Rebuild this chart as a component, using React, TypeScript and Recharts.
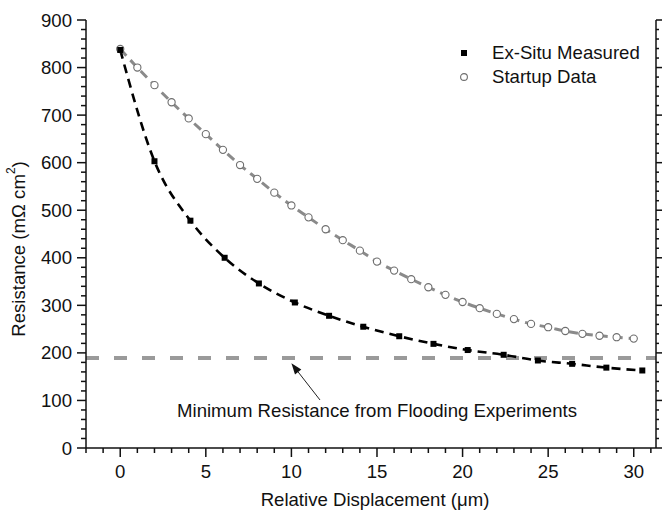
import {
  ComposedChart,
  Line,
  XAxis,
  YAxis,
  ReferenceLine,
  ReferenceDot,
  Legend,
} from "recharts";

// Ex-situ measured resistance vs. relative displacement
const exSituDisp = [0, 2.0, 4.1, 6.1, 8.1, 10.2, 12.2, 14.2, 16.3, 18.3, 20.3, 22.4, 24.4, 26.4, 28.4, 30.5];
const exSituRes = [837, 603, 478, 400, 346, 306, 278, 255, 235, 219, 206, 196, 184, 177, 169, 163];

// Startup data, one point per micron
const startupDisp = [
  0, 1, 2, 3, 4, 5, 6, 7, 8, 9, 10, 11, 12, 13, 14, 15, 16, 17, 18, 19, 20, 21, 22, 23, 24, 25, 26, 27, 28, 29, 30,
];
const startupRes = [
  839, 800, 763, 727, 693, 660, 627, 595, 566, 537, 510, 485, 460, 437, 415, 392, 373, 355, 338, 322, 307, 294, 282,
  271, 261, 254, 246, 240, 236, 233, 230,
];

const minFloodingRes = 189;
const seriesNames = ["Ex-Situ Measured", "Startup Data"];
const xMajorTicks = [0, 5, 10, 15, 20, 25, 30];
const yMajorTicks = [0, 100, 200, 300, 400, 500, 600, 700, 800, 900];

const X_DOMAIN: [number, number] = [-2, 31.3];
const Y_DOMAIN: [number, number] = [0, 900];
const xTicks = Array.from({ length: 34 }, (_, i) => i - 2);
const yTicks = Array.from({ length: 46 }, (_, i) => i * 20);

const exSitu = exSituDisp.map((x, i) => ({ x, r: exSituRes[i] }));
const startup = startupDisp.map((x, i) => ({ x, r: startupRes[i] }));

const FONT = "'Liberation Sans', Arial, Helvetica, sans-serif";
const FS = 18.6;
const INK = "#111";

const isMajor = (v: number, list: number[]) => list.includes(v);

const BottomTick = ({ x, y, payload }: any) => {
  const major = isMajor(payload.value, xMajorTicks);
  return (
    <g>
      <line x1={x} x2={x} y1={y} y2={y + (major ? 9 : 5)} stroke={INK} strokeWidth={1.5} />
      {major && (
        <text x={x} y={y + 30} textAnchor="middle" fontSize={FS} fontFamily={FONT} fill={INK}>
          {payload.value}
        </text>
      )}
    </g>
  );
};

const TopTick = ({ x, y, payload }: any) => {
  const major = isMajor(payload.value, xMajorTicks);
  return <line x1={x} x2={x} y1={y} y2={y + (major ? 9 : 5)} stroke={INK} strokeWidth={1.5} />;
};

const LeftTick = ({ x, y, payload }: any) => {
  const major = isMajor(payload.value, yMajorTicks);
  return (
    <g>
      <line x1={x} x2={x - (major ? 9 : 5)} y1={y} y2={y} stroke={INK} strokeWidth={1.5} />
      {major && (
        <text x={x - 14} y={y + 6.5} textAnchor="end" fontSize={FS} fontFamily={FONT} fill={INK}>
          {payload.value}
        </text>
      )}
    </g>
  );
};

const RightTick = ({ x, y, payload }: any) => {
  const major = isMajor(payload.value, yMajorTicks);
  return <line x1={x} x2={x + (major ? 6 : 3)} y1={y} y2={y} stroke={INK} strokeWidth={1.5} />;
};

const XTitle = ({ viewBox }: any) => (
  <text
    x={viewBox.x + viewBox.width / 2 + 4}
    y={viewBox.y + 58}
    textAnchor="middle"
    fontSize={FS}
    fontFamily={FONT}
    fill={INK}
  >
    Relative Displacement (μm)
  </text>
);

const YTitle = ({ viewBox }: any) => {
  const cx = 18;
  const cy = viewBox.y + viewBox.height / 2 + 15;
  return (
    <text
      x={cx}
      y={cy}
      transform={`rotate(-90 ${cx} ${cy})`}
      textAnchor="middle"
      dominantBaseline="central"
      fontSize={FS}
      fontFamily={FONT}
      fill={INK}
    >
      Resistance (mΩ cm
      <tspan dy={-7} fontSize={12}>
        2
      </tspan>
      <tspan dy={7}>)</tspan>
    </text>
  );
};

const Square = ({ cx, cy, index }: any) => (
  <rect key={`sq-${index}`} x={cx - 3} y={cy - 3} width={6} height={6} fill="#000" />
);

const Ring = ({ cx, cy, index }: any) => (
  <circle key={`ci-${index}`} cx={cx} cy={cy} r={3.6} fill="#fff" stroke="#6e6e6e" strokeWidth={1.1} />
);

const Arrow = ({ x1, y1, x2, y2 }: any) => {
  const ang = Math.atan2(y2 - y1, x2 - x1);
  const len = 11;
  const half = 4;
  const bx = x2 - len * Math.cos(ang);
  const by = y2 - len * Math.sin(ang);
  const px = -Math.sin(ang) * half;
  const py = Math.cos(ang) * half;
  return (
    <g>
      <line x1={x1} y1={y1} x2={bx} y2={by} stroke="#222" strokeWidth={1} />
      <polygon points={`${x2},${y2} ${bx + px},${by + py} ${bx - px},${by - py}`} fill="#111" />
    </g>
  );
};

const NoteText = ({ cx, cy }: any) => (
  <text x={cx} y={cy + 6.5} textAnchor="middle" fontSize={FS} fontFamily={FONT} fill={INK}>
    Minimum Resistance from Flooding Experiments
  </text>
);

const LegendBox = ({ payload }: any) => (
  <div style={{ fontFamily: FONT, fontSize: FS, color: INK, lineHeight: "24px" }}>
    {(payload || []).map((p: any, i: number) => (
      <div key={p.value} style={{ display: "flex", alignItems: "center", height: 24 }}>
        <svg width={18} height={12} style={{ marginRight: 19 }}>
          {i === 0 ? (
            <rect x={6} y={3} width={6} height={6} fill="#000" />
          ) : (
            <circle cx={9} cy={6} r={3.4} fill="#fff" stroke="#6e6e6e" strokeWidth={1.1} />
          )}
        </svg>
        <span>{p.value}</span>
      </div>
    ))}
  </div>
);

export default function App() {
  return (
    <div style={{ position: "absolute", left: 0, top: 0, background: "#fff" }}>
      <ComposedChart width={662} height={510} margin={{ top: 20, right: 0, bottom: 0, left: 0 }}>
        <XAxis
          xAxisId="bottom"
          dataKey="x"
          type="number"
          domain={X_DOMAIN}
          allowDataOverflow
          ticks={xTicks}
          interval={0}
          height={62}
          tickSize={0}
          tickMargin={0}
          tickLine={false}
          tick={<BottomTick />}
          axisLine={{ stroke: INK, strokeWidth: 1.5 }}
          label={<XTitle />}
        />
        <XAxis
          xAxisId="top"
          orientation="top"
          type="number"
          domain={X_DOMAIN}
          allowDataOverflow
          ticks={xTicks}
          interval={0}
          height={0}
          tickSize={0}
          tickMargin={0}
          tickLine={false}
          tick={<TopTick />}
          axisLine={{ stroke: INK, strokeWidth: 1.5 }}
        />
        <YAxis
          yAxisId="left"
          type="number"
          domain={Y_DOMAIN}
          allowDataOverflow
          ticks={yTicks}
          interval={0}
          width={86}
          tickSize={0}
          tickMargin={0}
          tickLine={false}
          tick={<LeftTick />}
          axisLine={{ stroke: INK, strokeWidth: 1.5 }}
          label={<YTitle />}
        />
        <YAxis
          yAxisId="right"
          orientation="right"
          type="number"
          domain={Y_DOMAIN}
          allowDataOverflow
          ticks={yTicks}
          interval={0}
          width={6}
          tickSize={0}
          tickMargin={0}
          tickLine={false}
          tick={<RightTick />}
          axisLine={{ stroke: INK, strokeWidth: 1.5 }}
        />

        <ReferenceLine
          xAxisId="bottom"
          yAxisId="left"
          y={minFloodingRes}
          stroke="#9a9a9a"
          strokeWidth={4}
          strokeDasharray="13 15"
        />
        <ReferenceLine
          xAxisId="bottom"
          yAxisId="left"
          segment={[
            { x: 11.67, y: 101 },
            { x: 10.0, y: 178 },
          ]}
          shape={<Arrow />}
        />
        <ReferenceDot xAxisId="bottom" yAxisId="left" x={15} y={78} r={0} shape={<NoteText />} />

        <Line
          xAxisId="bottom"
          yAxisId="left"
          data={startup}
          dataKey="r"
          name={seriesNames[1]}
          type="monotone"
          stroke="#8a8a8a"
          strokeWidth={3}
          strokeDasharray="9 6"
          dot={<Ring />}
          activeDot={false}
          isAnimationActive={false}
        />
        <Line
          xAxisId="bottom"
          yAxisId="left"
          data={exSitu}
          dataKey="r"
          name={seriesNames[0]}
          type="monotone"
          stroke="#000"
          strokeWidth={2.6}
          strokeDasharray="9 6"
          dot={<Square />}
          activeDot={false}
          isAnimationActive={false}
        />

        <Legend
          layout="horizontal"
          verticalAlign="middle"
          align="center"
          payload={[
            { value: seriesNames[0], type: "square", color: "#000" },
            { value: seriesNames[1], type: "circle", color: "#6e6e6e" },
          ]}
          content={<LegendBox />}
          wrapperStyle={{ position: "absolute", left: 455, top: 41, width: 205 }}
        />
      </ComposedChart>
    </div>
  );
}
